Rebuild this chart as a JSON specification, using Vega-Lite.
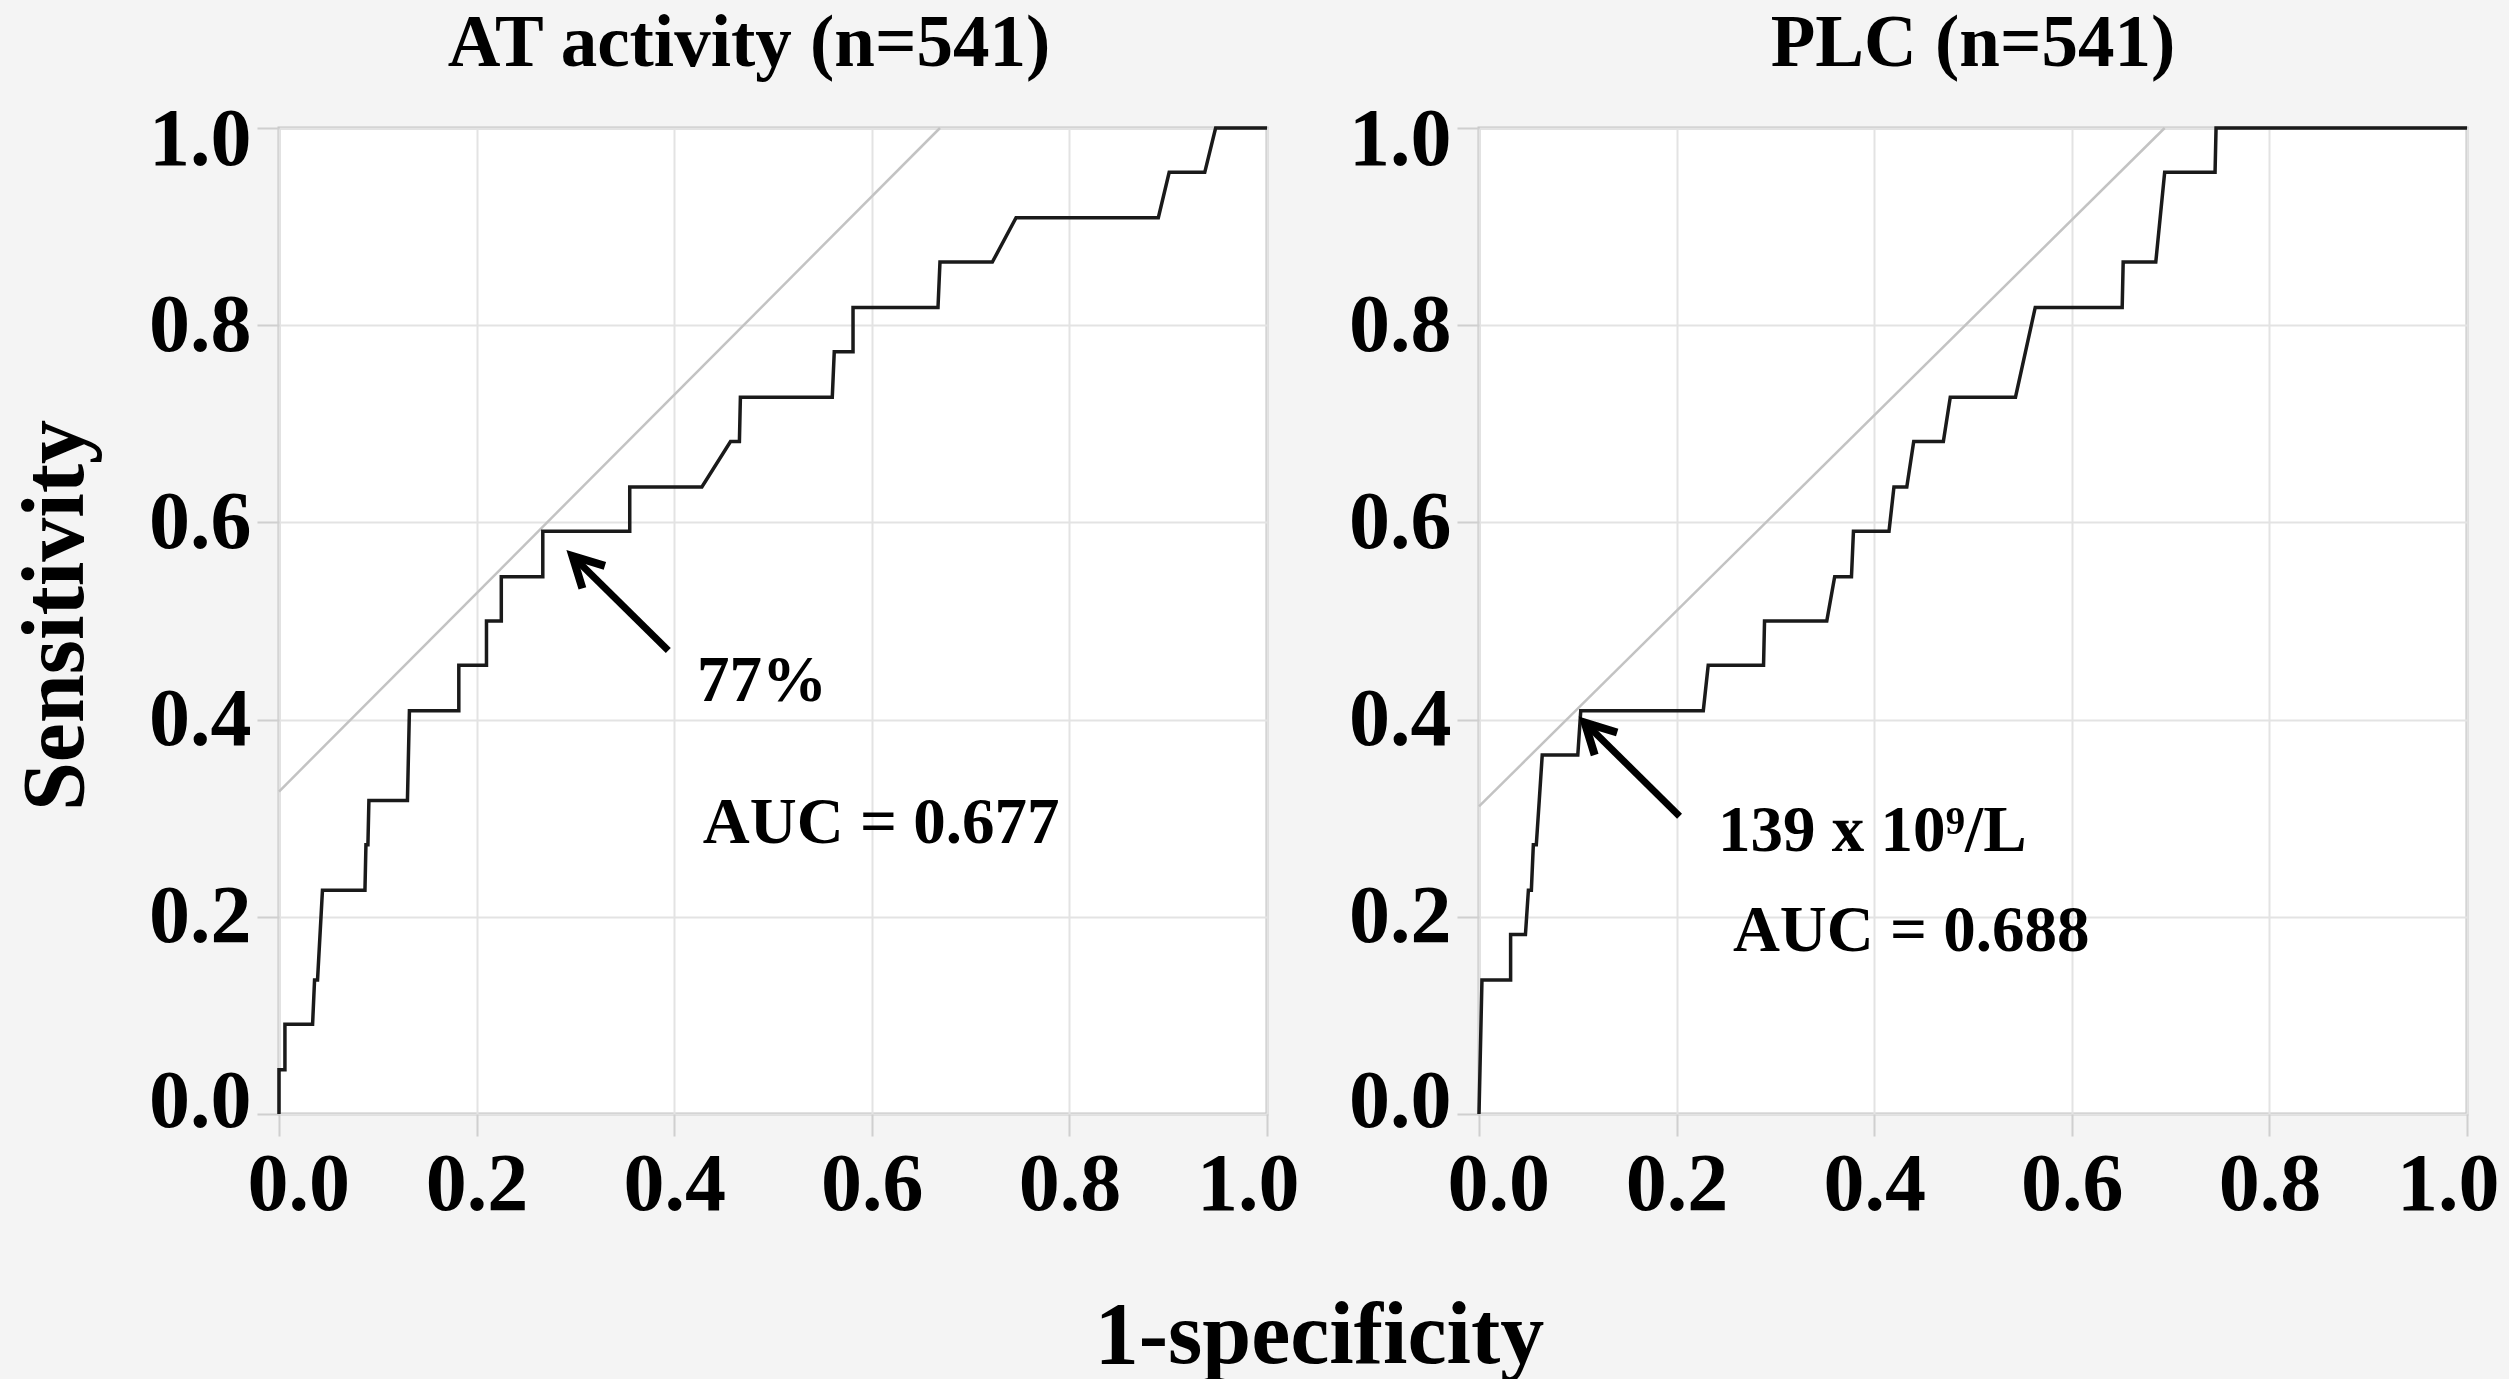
{
  "$schema": "https://vega.github.io/schema/vega-lite/v6.json",
  "background": "#f4f4f4",
  "padding": {"left": 10, "top": 6, "right": 12, "bottom": 1},
  "autosize": {"type": "pad"},
  "bounds": "flush",
  "spacing": 212,
  "config": {
    "font": "Liberation Serif",
    "view": {"stroke": "#c4c4c4", "strokeWidth": 3, "fill": "#ffffff"},
    "axis": {
      "labelFont": "Liberation Serif", "labelFontSize": 82, "labelFontWeight": "bold", "labelColor": "#000000",
      "titleFont": "Liberation Serif", "titleFontSize": 88, "titleFontWeight": "bold", "titleColor": "#000000",
      "domain": false, "tickColor": "#cfcfcf", "tickWidth": 2, "tickSize": 22,
      "gridColor": "#e3e3e3", "gridWidth": 2, "labelOverlap": false, "labelFlush": true
    },
    "axisX": {"labelFlushOffset": 32, "labelPadding": 8},
    "axisY": {"labelFlushOffset": 29, "labelPadding": 6}
  },
  "datasets": {
    "roc": [
      {"panel": "AT", "i": 0, "x": 0, "y": 0},
      {"panel": "AT", "i": 1, "x": 0, "y": 0.045},
      {"panel": "AT", "i": 2, "x": 0.006, "y": 0.045},
      {"panel": "AT", "i": 3, "x": 0.006, "y": 0.091},
      {"panel": "AT", "i": 4, "x": 0.034, "y": 0.091},
      {"panel": "AT", "i": 5, "x": 0.036, "y": 0.136},
      {"panel": "AT", "i": 6, "x": 0.039, "y": 0.136},
      {"panel": "AT", "i": 7, "x": 0.044, "y": 0.227},
      {"panel": "AT", "i": 8, "x": 0.087, "y": 0.227},
      {"panel": "AT", "i": 9, "x": 0.088, "y": 0.273},
      {"panel": "AT", "i": 10, "x": 0.090, "y": 0.273},
      {"panel": "AT", "i": 11, "x": 0.091, "y": 0.318},
      {"panel": "AT", "i": 12, "x": 0.130, "y": 0.318},
      {"panel": "AT", "i": 13, "x": 0.132, "y": 0.409},
      {"panel": "AT", "i": 14, "x": 0.182, "y": 0.409},
      {"panel": "AT", "i": 15, "x": 0.182, "y": 0.455},
      {"panel": "AT", "i": 16, "x": 0.210, "y": 0.455},
      {"panel": "AT", "i": 17, "x": 0.210, "y": 0.5},
      {"panel": "AT", "i": 18, "x": 0.225, "y": 0.5},
      {"panel": "AT", "i": 19, "x": 0.225, "y": 0.545},
      {"panel": "AT", "i": 20, "x": 0.267, "y": 0.545},
      {"panel": "AT", "i": 21, "x": 0.267, "y": 0.591},
      {"panel": "AT", "i": 22, "x": 0.355, "y": 0.591},
      {"panel": "AT", "i": 23, "x": 0.355, "y": 0.636},
      {"panel": "AT", "i": 24, "x": 0.428, "y": 0.636},
      {"panel": "AT", "i": 25, "x": 0.457, "y": 0.682},
      {"panel": "AT", "i": 26, "x": 0.466, "y": 0.682},
      {"panel": "AT", "i": 27, "x": 0.467, "y": 0.727},
      {"panel": "AT", "i": 28, "x": 0.560, "y": 0.727},
      {"panel": "AT", "i": 29, "x": 0.562, "y": 0.773},
      {"panel": "AT", "i": 30, "x": 0.581, "y": 0.773},
      {"panel": "AT", "i": 31, "x": 0.581, "y": 0.818},
      {"panel": "AT", "i": 32, "x": 0.667, "y": 0.818},
      {"panel": "AT", "i": 33, "x": 0.669, "y": 0.864},
      {"panel": "AT", "i": 34, "x": 0.722, "y": 0.864},
      {"panel": "AT", "i": 35, "x": 0.746, "y": 0.909},
      {"panel": "AT", "i": 36, "x": 0.890, "y": 0.909},
      {"panel": "AT", "i": 37, "x": 0.901, "y": 0.955},
      {"panel": "AT", "i": 38, "x": 0.937, "y": 0.955},
      {"panel": "AT", "i": 39, "x": 0.948, "y": 1.0},
      {"panel": "AT", "i": 40, "x": 1.0, "y": 1.0},
      {"panel": "PLC", "i": 0, "x": 0, "y": 0},
      {"panel": "PLC", "i": 1, "x": 0.003, "y": 0.136},
      {"panel": "PLC", "i": 2, "x": 0.032, "y": 0.136},
      {"panel": "PLC", "i": 3, "x": 0.032, "y": 0.182},
      {"panel": "PLC", "i": 4, "x": 0.047, "y": 0.182},
      {"panel": "PLC", "i": 5, "x": 0.050, "y": 0.227},
      {"panel": "PLC", "i": 6, "x": 0.053, "y": 0.227},
      {"panel": "PLC", "i": 7, "x": 0.055, "y": 0.273},
      {"panel": "PLC", "i": 8, "x": 0.058, "y": 0.273},
      {"panel": "PLC", "i": 9, "x": 0.061, "y": 0.318},
      {"panel": "PLC", "i": 10, "x": 0.064, "y": 0.364},
      {"panel": "PLC", "i": 11, "x": 0.100, "y": 0.364},
      {"panel": "PLC", "i": 12, "x": 0.103, "y": 0.409},
      {"panel": "PLC", "i": 13, "x": 0.227, "y": 0.409},
      {"panel": "PLC", "i": 14, "x": 0.232, "y": 0.455},
      {"panel": "PLC", "i": 15, "x": 0.288, "y": 0.455},
      {"panel": "PLC", "i": 16, "x": 0.289, "y": 0.5},
      {"panel": "PLC", "i": 17, "x": 0.352, "y": 0.5},
      {"panel": "PLC", "i": 18, "x": 0.360, "y": 0.545},
      {"panel": "PLC", "i": 19, "x": 0.377, "y": 0.545},
      {"panel": "PLC", "i": 20, "x": 0.379, "y": 0.591},
      {"panel": "PLC", "i": 21, "x": 0.415, "y": 0.591},
      {"panel": "PLC", "i": 22, "x": 0.420, "y": 0.636},
      {"panel": "PLC", "i": 23, "x": 0.433, "y": 0.636},
      {"panel": "PLC", "i": 24, "x": 0.440, "y": 0.682},
      {"panel": "PLC", "i": 25, "x": 0.470, "y": 0.682},
      {"panel": "PLC", "i": 26, "x": 0.477, "y": 0.727},
      {"panel": "PLC", "i": 27, "x": 0.543, "y": 0.727},
      {"panel": "PLC", "i": 28, "x": 0.563, "y": 0.818},
      {"panel": "PLC", "i": 29, "x": 0.651, "y": 0.818},
      {"panel": "PLC", "i": 30, "x": 0.652, "y": 0.864},
      {"panel": "PLC", "i": 31, "x": 0.685, "y": 0.864},
      {"panel": "PLC", "i": 32, "x": 0.694, "y": 0.955},
      {"panel": "PLC", "i": 33, "x": 0.745, "y": 0.955},
      {"panel": "PLC", "i": 34, "x": 0.746, "y": 1.0},
      {"panel": "PLC", "i": 35, "x": 1.0, "y": 1.0}
    ],
    "ref": [
      {"panel": "AT", "x": 0, "y": 0.327, "x2": 0.669, "y2": 1.0},
      {"panel": "PLC", "x": 0, "y": 0.312, "x2": 0.694, "y2": 1.0}
    ],
    "arrow": [
      {"panel": "AT", "x": 0.394, "y": 0.47, "x2": 0.297, "y2": 0.566, "angle": 315},
      {"panel": "PLC", "x": 0.203, "y": 0.302, "x2": 0.107, "y2": 0.397, "angle": 315}
    ],
    "labels": [
      {"panel": "AT", "x": 0.423, "y": 0.419, "text": "77%"},
      {"panel": "AT", "x": 0.429, "y": 0.275, "text": "AUC = 0.677"},
      {"panel": "PLC", "x": 0.242, "y": 0.267, "text": "139 x 10⁹/L"},
      {"panel": "PLC", "x": 0.257, "y": 0.165, "text": "AUC = 0.688"}
    ]
  },
  "hconcat": [
    {
      "width": 988,
      "height": 986,
      "title": {"text": "AT activity (n=541)", "font": "Liberation Serif", "fontSize": 73, "fontWeight": "bold", "color": "#000000", "anchor": "middle", "frame": "group", "baseline": "alphabetic", "offset": -41, "dx": -24},
      "encoding": {
        "x": {"field": "x", "type": "quantitative", "scale": {"domain": [0, 1], "nice": false, "zero": false},
              "axis": {"values": [0, 0.2, 0.4, 0.6, 0.8, 1], "format": ".1f", "title": "1-specificity", "titleX": 1040, "titleY": 248, "titleAlign": "center", "titleBaseline": "alphabetic", "titleAngle": 0}},
        "y": {"field": "y", "type": "quantitative", "scale": {"domain": [0, 1], "nice": false, "zero": false},
              "axis": {"values": [0, 0.2, 0.4, 0.6, 0.8, 1], "format": ".1f", "title": "Sensitivity", "titleX": -197, "titleY": 487, "titleAlign": "center", "titleBaseline": "alphabetic", "titleAngle": -90}}
      },
      "layer": [
        {
          "data": {"name": "ref"},
          "transform": [{"filter": "datum.panel == 'AT'"}],
          "mark": {"type": "rule", "color": "#c3c3c3", "strokeWidth": 2.5},
          "encoding": {"x2": {"field": "x2"}, "y2": {"field": "y2"}}
        },
        {
          "data": {"name": "roc"},
          "transform": [{"filter": "datum.panel == 'AT'"}],
          "mark": {"type": "line", "color": "#1a1a1a", "strokeWidth": 3.5, "interpolate": "linear"},
          "encoding": {"order": {"field": "i", "type": "quantitative"}}
        },
        {
          "data": {"name": "arrow"},
          "transform": [{"filter": "datum.panel == 'AT'"}],
          "mark": {"type": "rule", "color": "#000000", "strokeWidth": 7},
          "encoding": {"x2": {"field": "x2"}, "y2": {"field": "y2"}}
        },
        {
          "data": {"name": "arrow"},
          "transform": [{"filter": "datum.panel == 'AT'"}],
          "mark": {"type": "point", "shape": "M-0.53,1L0,0L0.53,1", "filled": false, "stroke": "#000000", "strokeWidth": 8, "strokeJoin": "miter", "size": 3600, "opacity": 1},
          "encoding": {"x": {"field": "x2", "type": "quantitative"}, "y": {"field": "y2", "type": "quantitative"}, "angle": {"field": "angle", "type": "quantitative", "scale": null}}
        },
        {
          "data": {"name": "labels"},
          "transform": [{"filter": "datum.panel == 'AT'"}],
          "mark": {"type": "text", "align": "left", "baseline": "alphabetic", "font": "Liberation Serif", "fontSize": 65, "fontWeight": "bold", "color": "#000000"},
          "encoding": {"text": {"field": "text"}}
        }
      ]
    },
    {
      "width": 988,
      "height": 986,
      "title": {"text": "PLC (n=541)", "font": "Liberation Serif", "fontSize": 73, "fontWeight": "bold", "color": "#000000", "anchor": "middle", "frame": "group", "baseline": "alphabetic", "offset": -41},
      "encoding": {
        "x": {"field": "x", "type": "quantitative", "scale": {"domain": [0, 1], "nice": false, "zero": false},
              "axis": {"values": [0, 0.2, 0.4, 0.6, 0.8, 1], "format": ".1f", "title": null}},
        "y": {"field": "y", "type": "quantitative", "scale": {"domain": [0, 1], "nice": false, "zero": false},
              "axis": {"values": [0, 0.2, 0.4, 0.6, 0.8, 1], "format": ".1f", "title": null}}
      },
      "layer": [
        {
          "data": {"name": "ref"},
          "transform": [{"filter": "datum.panel == 'PLC'"}],
          "mark": {"type": "rule", "color": "#c3c3c3", "strokeWidth": 2.5},
          "encoding": {"x2": {"field": "x2"}, "y2": {"field": "y2"}}
        },
        {
          "data": {"name": "roc"},
          "transform": [{"filter": "datum.panel == 'PLC'"}],
          "mark": {"type": "line", "color": "#1a1a1a", "strokeWidth": 3.5, "interpolate": "linear"},
          "encoding": {"order": {"field": "i", "type": "quantitative"}}
        },
        {
          "data": {"name": "arrow"},
          "transform": [{"filter": "datum.panel == 'PLC'"}],
          "mark": {"type": "rule", "color": "#000000", "strokeWidth": 7},
          "encoding": {"x2": {"field": "x2"}, "y2": {"field": "y2"}}
        },
        {
          "data": {"name": "arrow"},
          "transform": [{"filter": "datum.panel == 'PLC'"}],
          "mark": {"type": "point", "shape": "M-0.53,1L0,0L0.53,1", "filled": false, "stroke": "#000000", "strokeWidth": 8, "strokeJoin": "miter", "size": 3600, "opacity": 1},
          "encoding": {"x": {"field": "x2", "type": "quantitative"}, "y": {"field": "y2", "type": "quantitative"}, "angle": {"field": "angle", "type": "quantitative", "scale": null}}
        },
        {
          "data": {"name": "labels"},
          "transform": [{"filter": "datum.panel == 'PLC'"}],
          "mark": {"type": "text", "align": "left", "baseline": "alphabetic", "font": "Liberation Serif", "fontSize": 65, "fontWeight": "bold", "color": "#000000"},
          "encoding": {"text": {"field": "text"}}
        }
      ]
    }
  ]
}
